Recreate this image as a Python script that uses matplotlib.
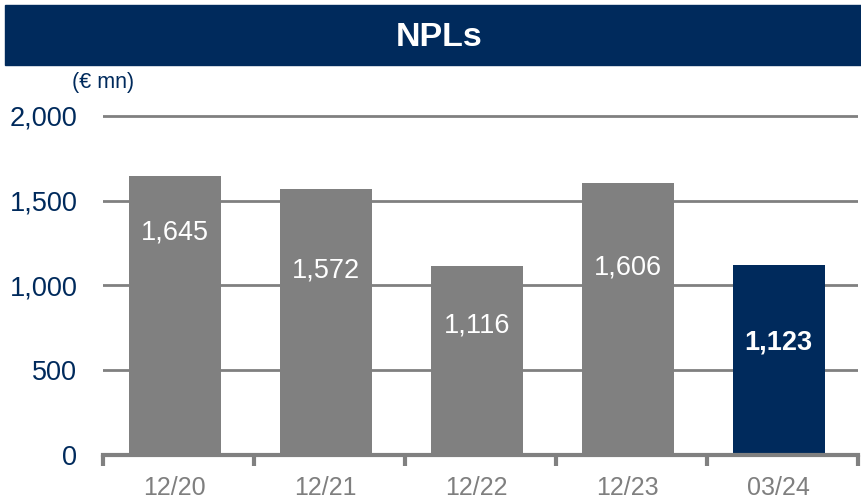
import matplotlib.pyplot as plt
from matplotlib.patches import Rectangle

categories = ['12/20', '12/21', '12/22', '12/23', '03/24']
npl_values = [1645, 1572, 1116, 1606, 1123]
# where the value text sits inside each bar (data units)
label_heights = [1310, 1090, 765, 1105, 665]

navy = '#002a5c'
grey = '#808080'

plt.rcParams['font.family'] = ['Liberation Sans', 'DejaVu Sans']

fig = plt.figure(figsize=(8.61, 5.01), dpi=100)

# title banner
fig.patches.append(Rectangle((5 / 861, 1 - 65 / 501), 1, 60 / 501,
                             transform=fig.transFigure, color=navy, zorder=0))
fig.text(439 / 861, 1 - 37 / 501, 'NPLs', color='white', fontsize=24.5,
         fontweight='bold', ha='center', va='center')
fig.text(72 / 861, 1 - 83 / 501, '(€ mn)', color=navy, fontsize=15.5,
         ha='left', va='center')

ax = fig.add_axes([103 / 861, 46 / 501, 755 / 861, 347.5 / 501])

x = list(range(len(categories)))
colors = [grey] * (len(categories) - 1) + [navy]
ax.bar([i - 0.025 for i in x], npl_values, width=0.61, color=colors, zorder=3)

for i, (v, h) in enumerate(zip(npl_values, label_heights)):
    last = i == len(categories) - 1
    ax.text(i - 0.025, h, f'{v:,}', color='white', fontsize=19.5, ha='center', va='center',
            fontweight='bold' if last else 'normal', zorder=4)

ax.set_xlim(-0.5, len(categories) - 0.5)
ax.set_ylim(0, 2050)
ax.set_yticks([0, 500, 1000, 1500, 2000])
ax.set_yticklabels(['0', '500', '1,000', '1,500', '2,000'])
ax.yaxis.grid(True, color=grey, linewidth=2, zorder=1)
ax.set_axisbelow(True)

ax.set_xticks([i - 0.5 for i in range(len(categories) + 1)])
ax.set_xticklabels([])
ax.set_xticks([i - 0.025 for i in x], minor=True)
ax.set_xticklabels(categories, minor=True)
ax.tick_params(axis='x', which='major', length=8, width=3, color=grey, direction='out')
ax.tick_params(axis='x', which='minor', length=0, pad=15, labelsize=18, labelcolor='#7f7f7f')
ax.tick_params(axis='y', length=0, pad=18.5, labelsize=19.5, labelcolor=navy)

for s in ['top', 'right', 'left']:
    ax.spines[s].set_visible(False)
ax.spines['bottom'].set_color(grey)
ax.spines['bottom'].set_linewidth(3)
ax.spines['bottom'].set_zorder(5)

fig.savefig('out.png', dpi=100)
